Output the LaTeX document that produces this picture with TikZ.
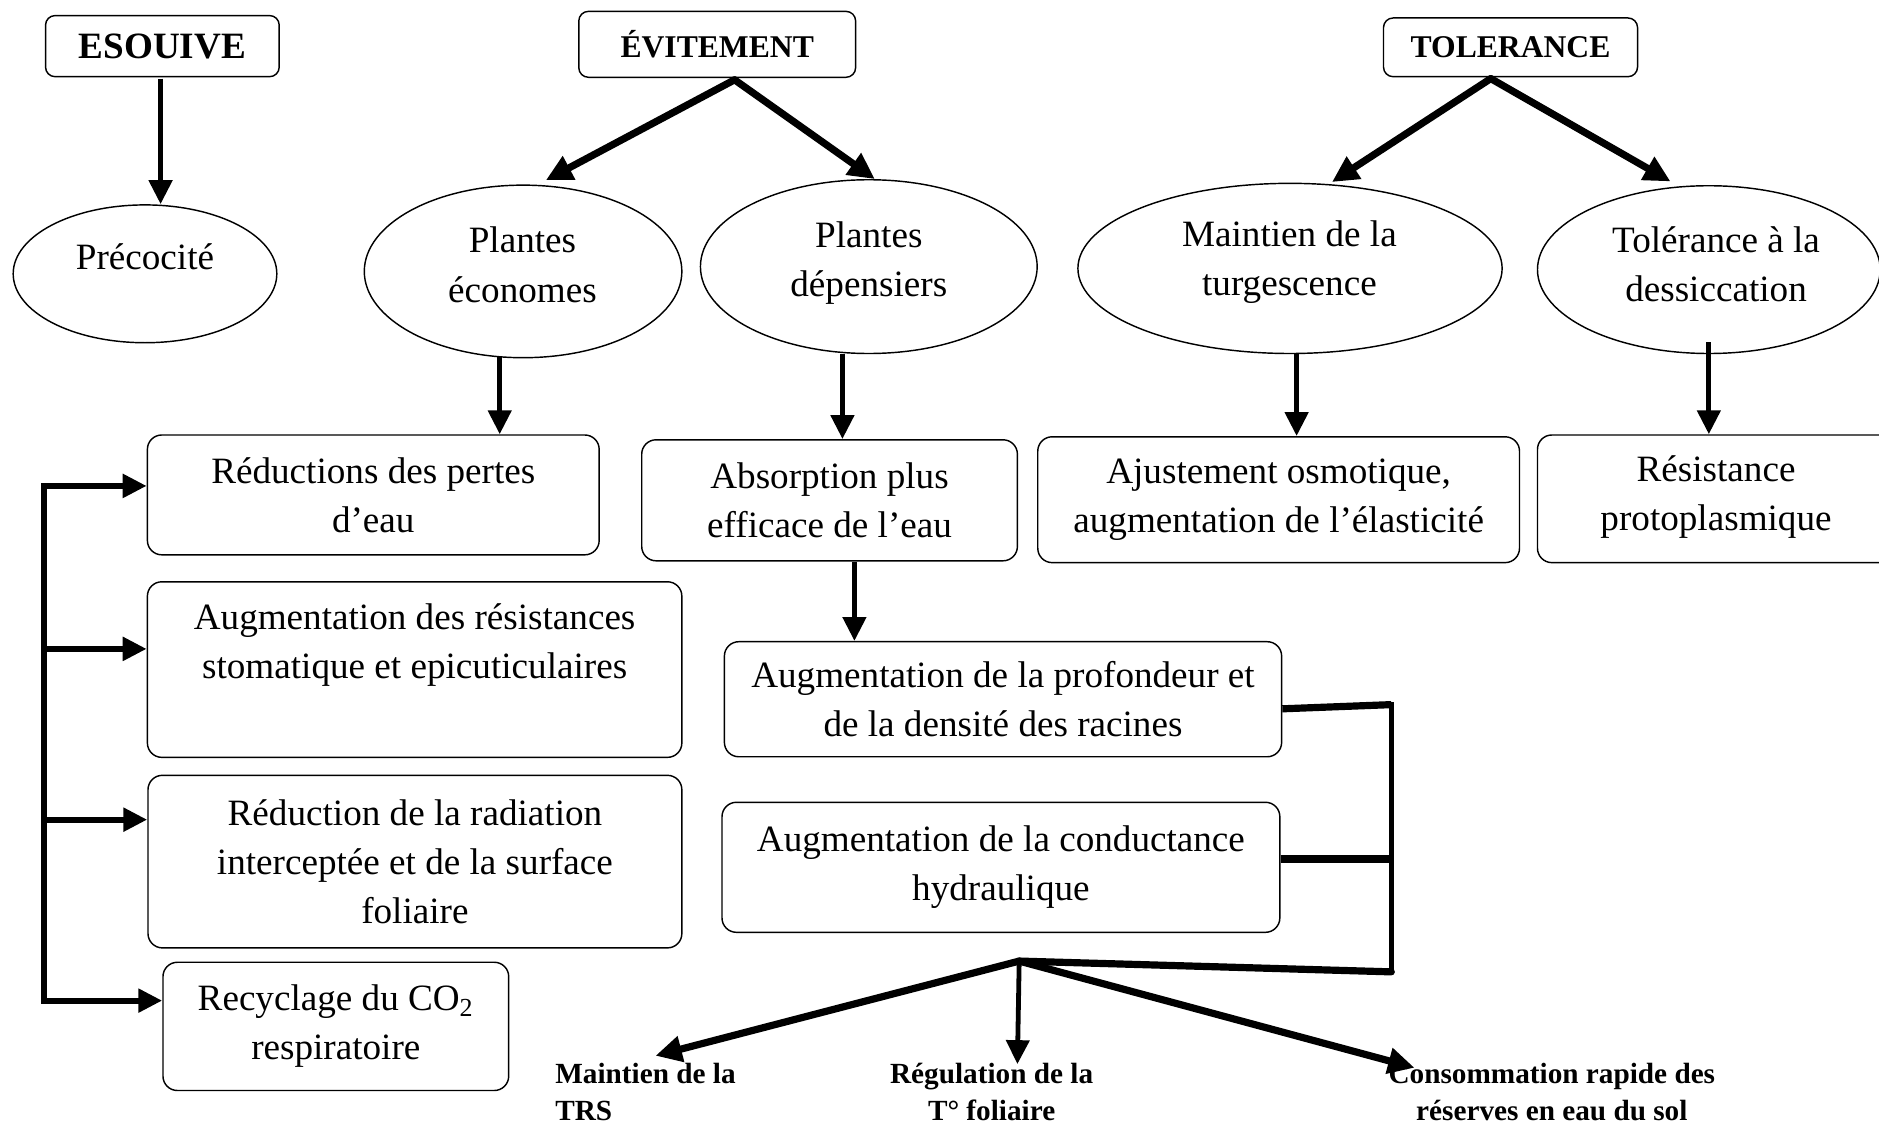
\documentclass[tikz,border=0pt]{standalone}
\usepackage{fontspec}
\setmainfont{Liberation Serif}
\usetikzlibrary{arrows.meta,shapes.geometric,calc}
\newcommand\dgmain{\fontsize{15.5pt}{20.5pt}\selectfont}
\newcommand\dgtop{\fontsize{13.2pt}{16pt}\selectfont\bfseries}
\newcommand\dgbig{\fontsize{15.5pt}{18pt}\selectfont\bfseries}
\newcommand\dgbot{\fontsize{12.2pt}{15.5pt}\selectfont\bfseries}
\begin{document}
\begin{tikzpicture}[x=0.5pt,y=-0.5pt,
  box/.style={draw, line width=0.6pt, rounded corners=6pt, align=center, inner sep=0pt, font=\dgmain},
  hbox/.style={draw, line width=0.6pt, rounded corners=4pt, inner sep=0pt},
  ell/.style={draw, ellipse, line width=0.6pt, inner sep=0pt},
  txt/.style={align=center, inner sep=0pt, font=\dgmain},
  btxt/.style={inner sep=0pt, font=\dgbot},
  arr/.style={-{Triangle[length=10pt,width=9.5pt]}, line width=2.2pt},
  warr/.style={-{Triangle[length=11pt,width=10.5pt]}, line width=3pt},
  bar/.style={line width=2.5pt}
]
\clip (0,0) rectangle (1568,940);
\fill[white] (0,0) rectangle (1568,940);

% top headers
\node[hbox, minimum width=97.5pt, minimum height=25.5pt, text depth=0pt, font=\dgbig] (esq) at (135.5,38.5) {ESOUIVE};
\node[hbox, minimum width=115.5pt, minimum height=27.5pt, font=\dgtop] (evit) at (598.5,37) {ÉVITEMENT};
\node[hbox, minimum width=106pt, minimum height=24.5pt, font=\dgtop] (tol) at (1260.5,39.5) {TOLERANCE};

% ellipses
\node[ell, minimum width=110pt, minimum height=57.5pt] (prec) at (121,228.5) {};
\node[ell, minimum width=132.5pt, minimum height=72pt] (econ) at (436.5,226.5) {};
\node[ell, minimum width=140.5pt, minimum height=72.5pt] (depe) at (725,222.5) {};
\node[ell, minimum width=177pt, minimum height=71pt] (turg) at (1076.5,224) {};
\node[ell, minimum width=143pt, minimum height=70pt] (dess) at (1426,225) {};

\node[txt] (tprec) at (121,214) {Précocité};
\node[txt] (tecon) at (436,221) {Plantes\\économes};
\node[txt] (tdepe) at (725,219.5) {Plantes\\dépensiers};
\node[txt] (tturg) at (1076,219) {Maintien de la\\turgescence};
\node[txt] (tdess) at (1432,220.5) {Tolérance à la\\dessiccation};

% boxes
\node[box, minimum width=188.5pt, minimum height=50pt] (red) at (311.5,413) {Réductions des pertes\\d’eau};
\node[box, minimum width=223pt, minimum height=73.25pt] (res) at (346,558.75) {};
\node[txt] (tres) at (346,538.5) {Augmentation des résistances\\stomatique et epicuticulaires};
\node[box, minimum width=222.75pt, minimum height=72pt] (rad) at (346.25,719) {Réduction de la radiation\\interceptée et de la surface\\foliaire};
\node[box, minimum width=144.25pt, minimum height=53.5pt] (rec) at (280.25,856.5) {Recyclage du CO\textsubscript{2}\\respiratoire};
\node[box, minimum width=156.75pt, minimum height=50.5pt] (abs) at (692.25,417.5) {Absorption plus\\efficace de l’eau};
\node[box, minimum width=232.5pt, minimum height=48pt] (prof) at (837,583.5) {Augmentation de la profondeur et\\de la densité des racines};
\node[box, minimum width=232.75pt, minimum height=54.25pt] (cond) at (835.25,723.75) {Augmentation de la conductance\\hydraulique};
\node[box, minimum width=201pt, minimum height=52.5pt] (ajus) at (1067,417) {Ajustement osmotique,\\augmentation de l’élasticité};
\node[box, minimum width=158.5pt, minimum height=53.25pt] (prot) at (1441.5,416.25) {};
\node[txt] (tprot) at (1432,415) {Résistance\\protoplasmique};

% bottom labels
\node[btxt, align=left, anchor=north west] (trs) at (463,887) {Maintien de la\\TRS};
\node[btxt, align=center, anchor=north] (reg) at (827.5,887) {Régulation de la\\T° foliaire};
\node[btxt, align=center, anchor=north] (cons) at (1295,887) {Consommation rapide des\\réserves en eau du sol};

% top arrows
\coordinate (e1) at ($(esq.south)+(-1.5,1)$);
\draw[arr] (e1) -- (e1 |- prec.north);
\coordinate (ev) at ($(evit.south)+(14.5,1.5)$);
\draw[warr, line cap=round] (ev) -- ($(econ.north)+(19,-3.5)$);
\draw[warr, line cap=round] (ev) -- ($(depe.north)+(5,0)$);
\coordinate (tl) at ($(tol.south)+(-16.5,1)$);
\draw[warr, line cap=round] (tl) -- ($(turg.north)+(35,-0.5)$);
\draw[warr, line cap=round] (tl) -- ($(dess.north)+(-32,-3)$);

% down arrows
\coordinate (d1) at ($(econ.south)+(-19.5,-1)$);
\draw[arr] (d1) -- (d1 |- red.north);
\coordinate (d2) at ($(depe.south)+(-22,0)$);
\draw[arr] (d2) -- (d2 |- abs.north);
\coordinate (d3) at ($(turg.south)+(5.5,-1)$);
\draw[arr] (d3) -- (d3 |- ajus.north);
\coordinate (d4) at ($(dess.south)+(0,-10)$);
\draw[arr] (d4) -- (d4 |- prot.north);
\coordinate (d5) at ($(abs.south)+(20.75,0)$);
\draw[arr] (d5) -- (d5 |- prof.north);

% left bracket
\coordinate (l1) at (37,405.5);
\coordinate (l2) at (37,541.5);
\coordinate (l3) at (37,684);
\coordinate (l4) at (37,835);
\draw[bar, line cap=rect] (l1) -- (l4);
\draw[arr, line width=2.5pt] (l1) -- (l1 -| red.west);
\draw[arr, line width=2.5pt] (l2) -- (l2 -| res.west);
\draw[arr, line width=2.5pt] (l3) -- (l3 -| rad.west);
\draw[arr, line width=2.5pt] (l4) -- (l4 -| rec.west);

% right bracket
\coordinate (p1) at ($(prof.east)+(0,8)$);
\coordinate (r1) at (1161,588);
\coordinate (r2) at (1161,811);
\coordinate (hub) at (850.5,802);
\coordinate (c1) at ($(cond.east)+(0,-7)$);
\draw[line width=3pt] (p1) -- (r1);
\draw[line width=2pt, line cap=rect] (r1) -- (r2);
\draw[line width=3pt] (c1) -- (c1 -| r1);
\draw[line width=3pt, line cap=round] (r2) -- (hub);
\draw[warr, line cap=round] (hub) -- ($(trs.north west)+(84,-6)$);
\draw[arr, line width=2pt] (hub) -- ($(reg.north)+(21.5,1)$);
\draw[warr, line cap=round] (hub) -- ($(cons.north west)+(22,4)$);
\end{tikzpicture}
\end{document}
